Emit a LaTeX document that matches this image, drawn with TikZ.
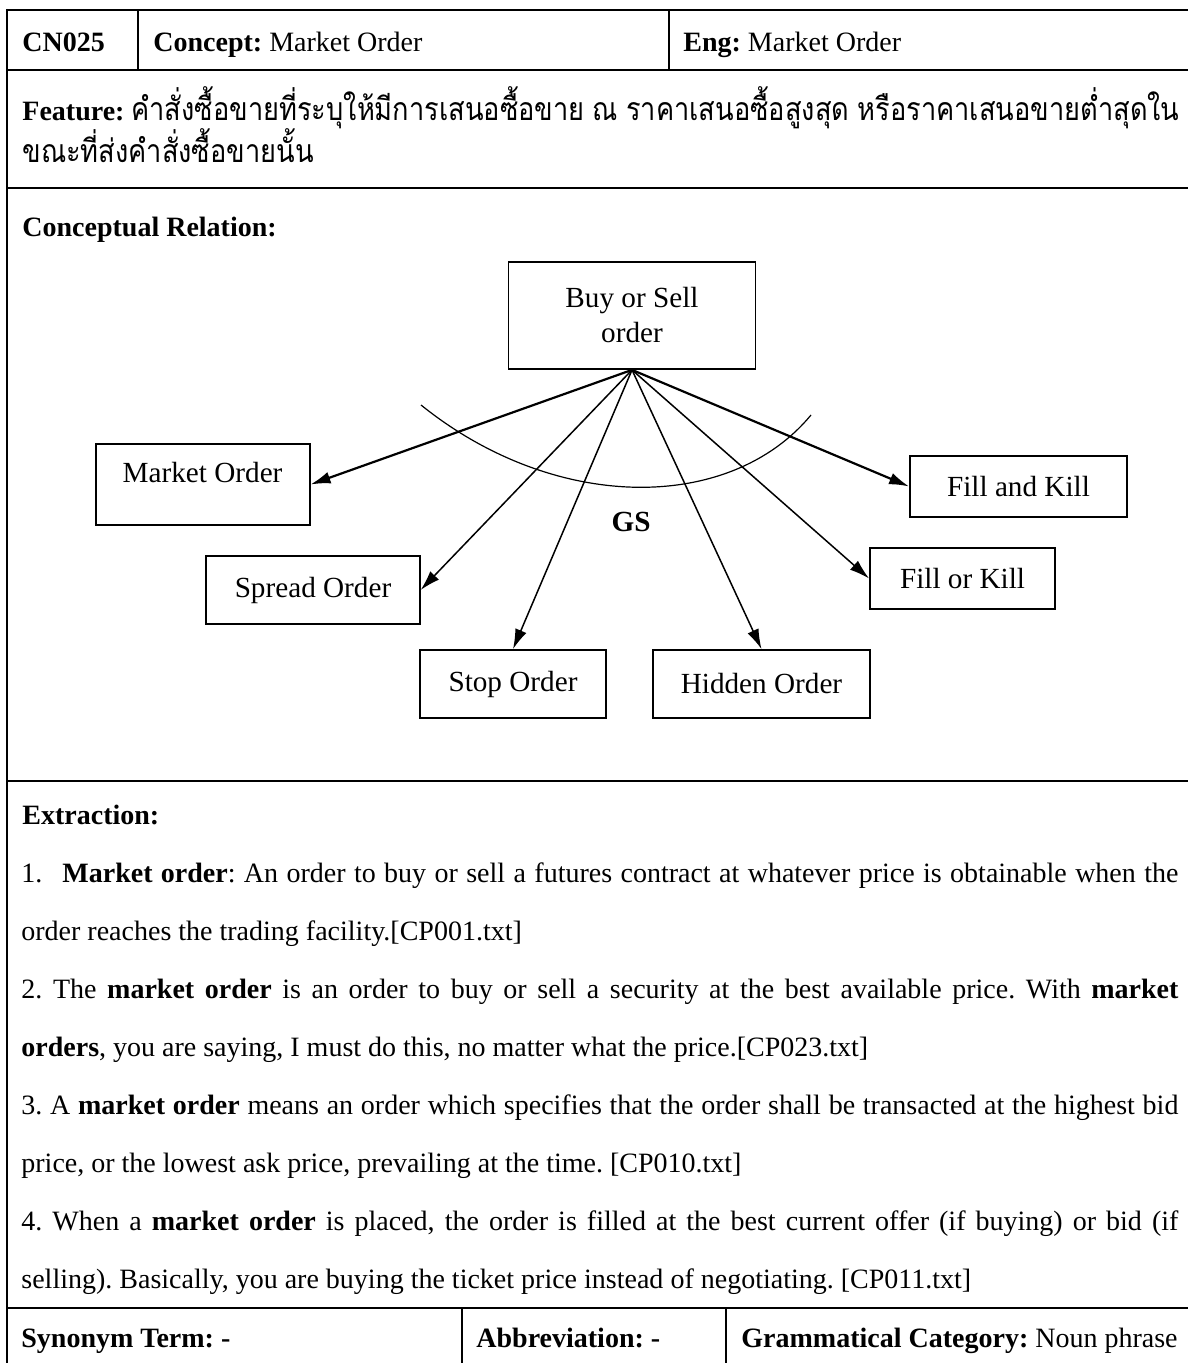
\documentclass[tikz,border=0pt]{standalone}
\usepackage{fontspec}
\setmainfont{Liberation Serif}
\newfontfamily\thaifont[Script=Thai,FakeStretch=0.85]{Loma}
\usetikzlibrary{arrows.meta}
\frenchspacing

\begin{document}
\begin{tikzpicture}[x=0.5pt,y=-0.5pt,
  rule/.style={line width=1.25pt},
  txt/.style={inner sep=0pt, anchor=base west, font=\fontsize{14}{17}\selectfont},
  thai/.style={inner sep=0pt, anchor=base west, font=\thaifont\fontsize{16}{19}\selectfont},
  box/.style={draw, line width=0.9pt, inner sep=0pt, align=center,
    font=\fontsize{14.6}{17.5}\selectfont},
  link/.style={line width=0.75pt, -{Latex[length=10pt,width=6pt]}},
  boldlink/.style={link, line width=1.1pt},
]
\useasboundingbox (0,0) rectangle (1187,1363);
\fill[white] (0,0) rectangle (1187,1363);

% table rules
\draw[rule] (7,10) -- (1195,10);
\draw[rule] (7,9) -- (7,1375);
\draw[rule] (7,70) -- (1195,70);
\draw[rule] (7,188) -- (1195,188);
\draw[rule] (7,781) -- (1195,781);
\draw[rule] (7,1308) -- (1195,1308);
\draw[rule] (138,10) -- (138,70);
\draw[rule] (669,10) -- (669,70);
\draw[rule] (462,1308) -- (462,1375);
\draw[rule] (726,1308) -- (726,1375);

% header row
\node[txt] (id) at (22,52) {\textbf{CN025}};
\node[txt] (concept) at (153,52) {\textbf{Concept:} Market Order};
\node[txt] (eng) at (683,52) {\textbf{Eng:} Market Order};

% feature
\node[txt] (feat) at (22,121) {\textbf{Feature:}};
\node[thai] (feat1) at (131,121) {\makebox[524pt][s]{คำสั่งซื้อขายที่ระบุให้มีการเสนอซื้อขาย ณ ราคาเสนอซื้อสูงสุด หรือราคาเสนอขายต่ำสุดใน}};
\node[thai] (feat2) at (22,163) {ขณะที่ส่งคำสั่งซื้อขายนั้น};

% conceptual relation
\node[txt] (crel) at (22,237) {\textbf{Conceptual Relation:}};

\node[box, minimum width=123.5pt, minimum height=53.5pt] (bso) at (632,315.5) {Buy or Sell\\order};
\node[box, minimum width=107pt, minimum height=40.5pt] (mo) at (202.6,484.5) {};
\node[inner sep=0pt, font=\fontsize{14.6}{17.5}\selectfont] (motext) at (202.6,473) {Market Order};
\node[box, minimum width=106.75pt, minimum height=34pt] (spo) at (313,590) {Spread Order};
\node[box, minimum width=93pt, minimum height=34pt] (sto) at (513,684) {Stop Order};
\node[box, minimum width=108.5pt, minimum height=34pt] (hio) at (761.5,684) {Hidden Order};
\node[box, minimum width=108.5pt, minimum height=30.5pt] (fak) at (1018.5,486.5) {Fill and Kill};
\node[box, minimum width=92.5pt, minimum height=30.5pt] (fok) at (962.5,578.5) {Fill or Kill};

\draw[boldlink] (bso.south) -- (mo.east);
\draw[link] (bso.south) -- (spo.east);
\draw[link] (bso.south) -- (sto.north);
\draw[link] (bso.south) -- (hio.north);
\draw[link] (bso.south) -- (fok.west);
\draw[boldlink] (bso.south) -- (fak.west);

\draw[line width=0.6pt] (421,405) .. controls (555,513) and (730,513) .. (811,415);
\node[inner sep=0pt, font=\bfseries\fontsize{14.6}{17.5}\selectfont] (gs) at (631,522) {GS};

% extraction
\node[txt] (ext) at (22,824) {\textbf{Extraction:}};
\node[txt] (l1) at (21,882) {\makebox[578.5pt][s]{1.\hspace{10pt}\textbf{Market order}: An order to buy or sell a futures contract at whatever price is obtainable when the}};
\node[txt] (l2) at (21,940) {order reaches the trading facility.[CP001.txt]};
\node[txt] (l3) at (21,998) {\makebox[578.5pt][s]{2. The \textbf{market order} is an order to buy or sell a security at the best available price. With \textbf{market}}};
\node[txt] (l4) at (21,1056) {\textbf{orders}, you are saying, I must do this, no matter what the price.[CP023.txt]};
\node[txt] (l5) at (21,1114) {\makebox[578.5pt][s]{3. A \textbf{market order} means an order which specifies that the order shall be transacted at the highest bid}};
\node[txt] (l6) at (21,1172) {price, or the lowest ask price, prevailing at the time. [CP010.txt]};
\node[txt] (l7) at (21,1230) {\makebox[578.5pt][s]{4. When a \textbf{market order} is placed, the order is filled at the best current offer (if buying) or bid (if}};
\node[txt] (l8) at (21,1288) {selling). Basically, you are buying the ticket price instead of negotiating. [CP011.txt]};

% bottom row
\node[txt] (syn) at (21,1347) {\textbf{Synonym Term: -}};
\node[txt] (abbr) at (476,1347) {\textbf{Abbreviation: -}};
\node[txt] (gram) at (741,1347) {\textbf{Grammatical Category:} Noun phrase};
\end{tikzpicture}
\end{document}
